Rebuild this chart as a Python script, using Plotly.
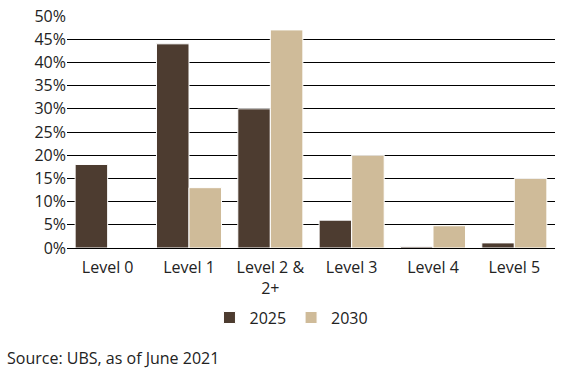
import plotly.graph_objects as go

categories = ["Level 0", "Level 1", "Level 2 &<br>2+", "Level 3", "Level 4", "Level 5"]
values_2025 = [18, 44, 30, 6, 0.3, 1.1]
values_2030 = [0, 13, 47, 20, 4.8, 15]
y_ticks = [0, 5, 10, 15, 20, 25, 30, 35, 40, 45, 50]
y_tick_labels = [f"{v}%" for v in y_ticks]

font = "Open Sans, Noto Sans, sans-serif"

fig = go.Figure()
fig.add_trace(go.Bar(x=categories, y=values_2025, name="2025",
                     marker=dict(color="#4d3c30", line=dict(color="white", width=1))))
fig.add_trace(go.Bar(x=categories, y=values_2030, name="2030",
                     marker=dict(color="#cfbb99", line=dict(color="white", width=1))))

fig.update_layout(
    width=566, height=373,
    margin=dict(l=67, r=11, t=16, b=125, autoexpand=False),
    plot_bgcolor="white", paper_bgcolor="white",
    barmode="group", bargap=0.2, bargroupgap=0,
    font=dict(family=font, size=15, color="#222222"),
    showlegend=True,
    legend=dict(orientation="h", x=0.46, xanchor="center", y=-0.30, yanchor="middle",
                font=dict(size=16), itemwidth=30, tracegroupgap=0),
    xaxis=dict(showgrid=False, showline=False, ticks="", tickfont=dict(size=16),
               ticklabelstandoff=8),
    yaxis=dict(range=[0, 50], tickvals=y_ticks, ticktext=y_tick_labels,
               showgrid=True, gridcolor="black", gridwidth=1, zeroline=True,
               zerolinecolor="black", zerolinewidth=1, showline=False,
               ticks="", ticklen=0, tickfont=dict(size=16), layer="below traces"),
    annotations=[dict(text="Source: UBS, as of June 2021", xref="paper", yref="paper",
                      x=-0.127, y=-0.474, xanchor="left", yanchor="middle",
                      showarrow=False, font=dict(size=16, color="#222222"))],
)

fig.write_html("out.html", config={"displayModeBar": False},
               post_script="document.body.style.margin='0';document.body.style.overflow='hidden';")
